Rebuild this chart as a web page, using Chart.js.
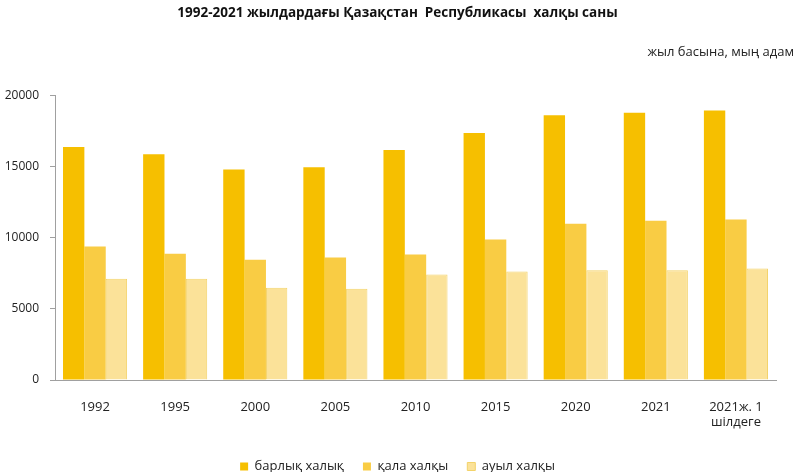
<!DOCTYPE html>
<html><head><meta charset="utf-8">
<script src="https://cdn.jsdelivr.net/npm/chart.js@4.4.1/dist/chart.umd.min.js"></script>
<style>html,body{margin:0;padding:0;background:#fff}#wrap{width:800px;height:472px}</style>
</head><body><div id="wrap"><canvas id="c" width="800" height="472"></canvas></div>
<script>
const categories = ['1992','1995','2000','2005','2010','2015','2020','2021',['2021ж. 1','шілдеге']];
const totalPop = [16400,15880,14820,14980,16180,17390,18640,18800,18960];
const urbanPop = [9400,8880,8460,8620,8830,9890,11000,11210,11290];
const ruralPop = [7120,7120,6500,6430,7420,7630,7720,7720,7840];
const yTicks = [0,5000,10000,15000,20000];
const FONT = "'Open Sans', 'Liberation Sans', sans-serif";
Chart.defaults.font.family = FONT;
Chart.defaults.color = '#222';
const chart = new Chart(document.getElementById('c'), {
  type: 'bar',
  data: {
    labels: categories,
    datasets: [
      {label:'барлық халық', data: totalPop, backgroundColor:'#F6BF00', borderColor:'#F6BF00', borderWidth:0},
      {label:'қала халқы', data: urbanPop, backgroundColor:'#F9CC44', borderColor:'#F9CC44', borderWidth:0},
      {label:'ауыл халқы', data: ruralPop, backgroundColor:'#FBE299', borderColor:'#F3D36A', borderWidth:1}
    ]
  },
  options: {
    responsive:false, animation:false,
    layout:{padding:{left:1,right:6,top:0,bottom:0}},
    datasets:{bar:{categoryPercentage:0.8, barPercentage:1.0}},
    plugins:{
      title:{display:true, text:'1992-2021 жылдардағы Қазақстан  Республикасы  халқы саны', font:{size:13.5, weight:'bold'}, color:'#111', padding:{top:5,bottom:17}},
      subtitle:{display:true, text:'жыл басына, мың адам', align:'end', font:{size:13}, color:'#222', padding:{top:6,bottom:36}},
      legend:{position:'bottom', labels:{boxWidth:8, boxHeight:8, padding:19, font:{size:13}, color:'#222'}},
      tooltip:{enabled:false}
    },
    scales:{
      x:{grid:{display:false}, border:{color:'#A0A0A0', width:1}, ticks:{font:{size:13}, color:'#222', padding:11, maxRotation:0},
         afterFit:(s)=>{s.height=61;}},
      y:{min:0, max:20000, afterBuildTicks:(s)=>{s.ticks = yTicks.map(v=>({value:v}));},
         grid:{drawOnChartArea:false, drawTicks:true, tickLength:5, color:'#A0A0A0'},
         border:{color:'#A0A0A0', width:1},
         ticks:{font:{size:12}, color:'#222', padding:11, callback:(v)=>String(v)},
         afterFit:(s)=>{s.width=54;}},
      yr:{position:'right', display:true, min:0, max:1, grid:{display:false}, border:{display:false}, ticks:{display:false},
         afterFit:(s)=>{s.width=18;}}
    }
  }
});
const origFit = chart.legend.fit;
chart.legend.fit = function(){ origFit.call(this); this.height -= 11; };
chart.update();
</script></body></html>
